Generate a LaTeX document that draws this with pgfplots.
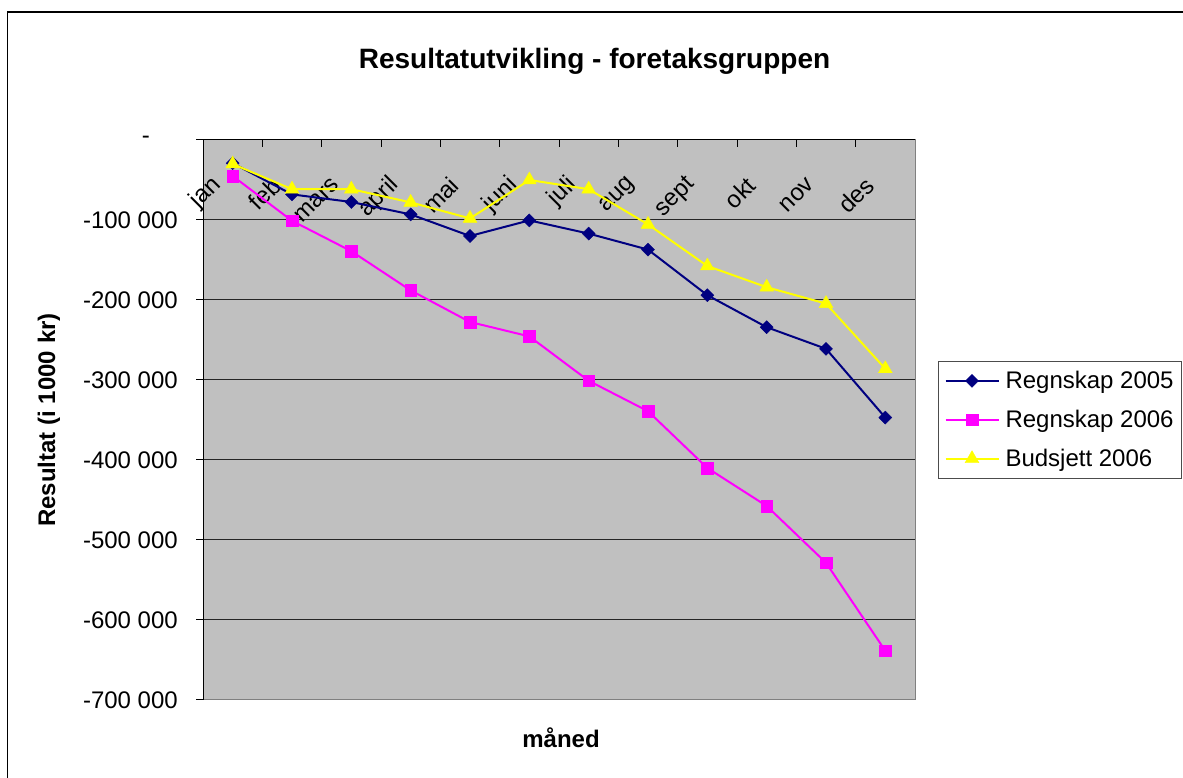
\documentclass[border=0pt]{standalone}
\usepackage{fontspec}
\setmainfont{Liberation Sans}
\usepackage{pgfplots}
\pgfplotsset{compat=1.18}
\definecolor{plotgray}{HTML}{C0C0C0}
\definecolor{navyc}{HTML}{000080}
\definecolor{magc}{HTML}{FF00FF}
\definecolor{yelc}{HTML}{FFFF00}
\newcommand{\fs}{\fontsize{24}{28}\selectfont}
\begin{document}
\begin{tikzpicture}[x=1pt,y=1pt]
\path[use as bounding box] (0,0) rectangle (1183,778);
\draw[line width=1.5pt] (7.5,-20) -- (7.5,766) -- (1220,766);
\begin{axis}[
 at={(203pt,78pt)}, anchor=south west,
 width=712pt, height=560pt, scale only axis,
 xmin=-0.5, xmax=11.5, ymin=-700000, ymax=0,
 axis background/.style={fill=plotgray},
 axis line style={draw=black!50, line width=1pt},
 xtick={-0.5,0.5,1.5,2.5,3.5,4.5,5.5,6.5,7.5,8.5,9.5,10.5,11.5},
 xticklabels={},
 xtick pos=upper, xticklabel pos=upper, xtick align=inside,
 extra x ticks={0,1,2,3,4,5,6,7,8,9,10,11},
 extra x tick labels={jan,feb,mars,april,mai,juni,juli,aug,sept,okt,nov,des},
 extra x tick style={major tick length=0pt, xticklabel style={yshift=-39pt, xshift=-13pt, rotate=45, anchor=east}},
 ytick={-700000,-600000,-500000,-400000,-300000,-200000,-100000,0},
 yticklabels={-700 000,-600 000,-500 000,-400 000,-300 000,-200 000,-100 000,{-\hspace*{28pt}}},
 scaled y ticks=false,
 ytick pos=left, ytick align=outside,
 yticklabel style={anchor=east, inner sep=0pt, xshift=-18pt},
 major tick length=7pt,
 tick style={black, line width=1pt},
 tick label style={font=\fs},
 ymajorgrids, major grid style={black!85, line width=1pt},
 title={Resultatutvikling - foretaksgruppen},
 title style={at={(axis description cs:0.5499,1.117)}, anchor=base, font=\bfseries\fontsize{28}{32}\selectfont},
 xlabel={måned},
 xlabel style={at={(axis description cs:0.5028,-0.0857)}, anchor=base, font=\bfseries\fs},
 ylabel={Resultat (i 1000 kr)},
 ylabel style={at={(axis description cs:-0.2163,0.5)}, anchor=center, font=\bfseries\fs},
 legend style={at={(axis description cs:1.0323,0.6054)}, anchor=north west, draw=black!70, line width=1pt, fill=white, font=\fs, inner xsep=6pt, inner ysep=8pt, row sep=16pt, /tikz/every odd column/.append style={column sep=4pt}},
 legend cell align=left,
 legend image code/.code={\draw[mark repeat=2,mark phase=2,#1] plot coordinates {(0pt,0pt) (26.5pt,0pt) (53pt,0pt)};},
]
\draw[black, line width=1pt] (axis cs:-0.5,-700000) -- (axis cs:-0.5,0) -- (axis cs:11.5,0);
\addplot[navyc, line width=2pt, mark=square*, mark size=4.6pt, mark options={rotate=45, solid, line width=0.4pt, fill=navyc}]
 coordinates {(0,-29000) (1,-68000) (2,-77500) (3,-93000) (4,-120000) (5,-100500) (6,-117000) (7,-137000) (8,-194000) (9,-234000) (10,-261000) (11,-347000)};
\addlegendentry{Regnskap 2005}
\addplot[magc, line width=2pt, mark=square*, mark size=5.8pt, mark options={solid, line width=0.4pt, fill=magc}]
 coordinates {(0,-45000) (1,-101000) (2,-139000) (3,-188000) (4,-227500) (5,-245500) (6,-301000) (7,-339000) (8,-410000) (9,-457500) (10,-528500) (11,-638500)};
\addlegendentry{Regnskap 2006}
\addplot[yelc, line width=2pt, mark=triangle*, mark size=8pt, mark options={solid, line width=0.4pt, fill=yelc}]
 coordinates {(0,-30000) (1,-61500) (2,-61500) (3,-78000) (4,-98000) (5,-50000) (6,-61500) (7,-105500) (8,-157500) (9,-184000) (10,-204500) (11,-286000)};
\addlegendentry{Budsjett 2006}
\end{axis}
\end{tikzpicture}
\end{document}
